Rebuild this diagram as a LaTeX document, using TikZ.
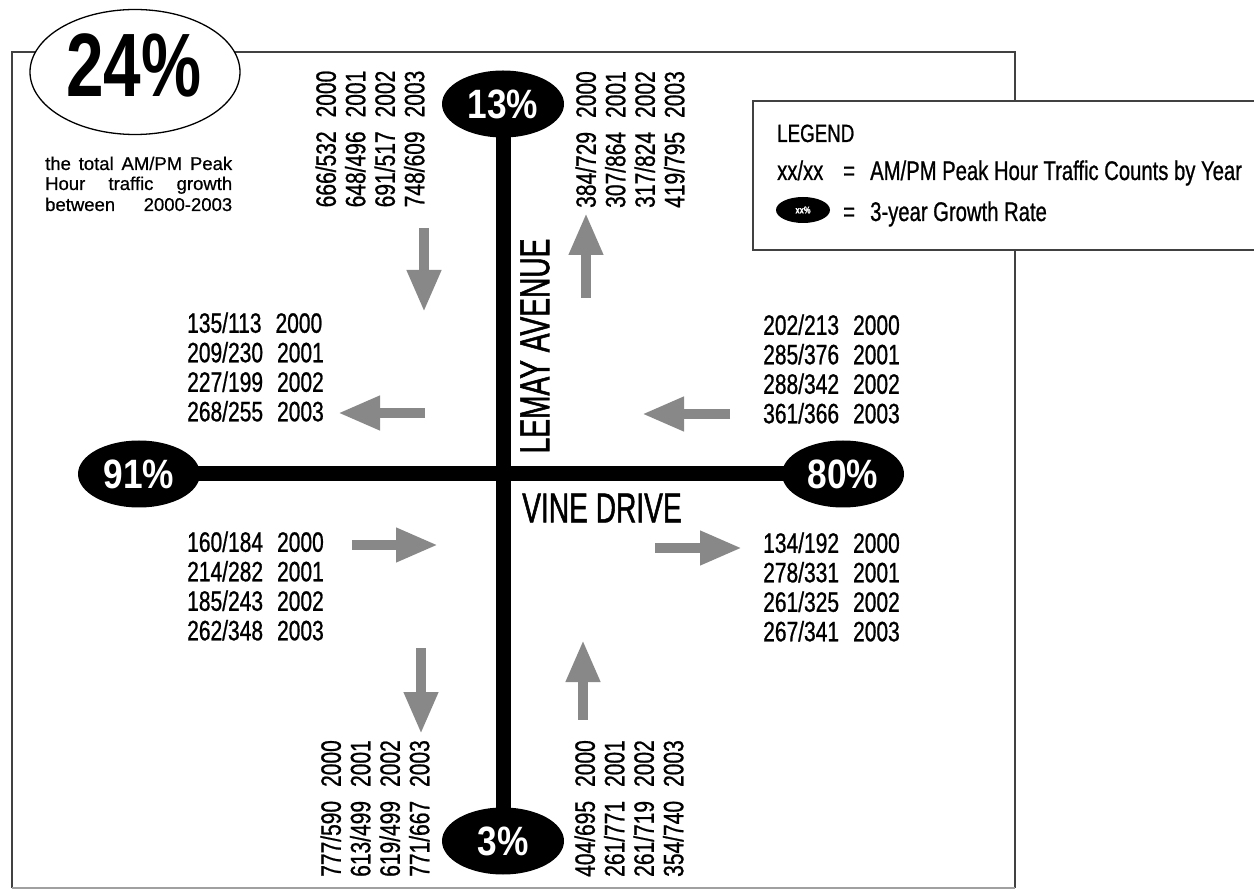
\documentclass[tikz,border=0pt]{standalone}
\usepackage{fontspec}
\setmainfont{Liberation Sans}[FakeBold=0.6]
\newfontfamily\cf{Liberation Sans}[FakeStretch=0.75,FakeBold=0.8]
\newfontfamily\cfroad{Liberation Sans}[FakeStretch=0.67,FakeBold=1.2]
\newfontfamily\cfpct{Liberation Sans}[FakeStretch=0.86]
\newfontfamily\cfbig{Liberation Sans}[FakeStretch=0.75]
\usetikzlibrary{shapes.geometric,arrows.meta,backgrounds}
\definecolor{arrgray}{RGB}{136,136,136}
\definecolor{framegray}{RGB}{65,65,65}
\tikzset{
  data/.style={font=\cf\fontsize{28}{29.5}\selectfont, align=left, inner sep=0pt},
  vdata/.style={data, rotate=90},
  pct/.style={ellipse, fill=black, inner sep=0pt, text=white,
    font=\cfpct\bfseries\fontsize{41}{41}\selectfont,
    minimum width=122pt, minimum height=67pt},
  road/.style={line width=15pt, black},
  flow/.style={arrgray, line width=10pt, -{Triangle[length=42pt,width=32pt]}},
  framel/.style={framegray, line width=2.2pt},
  legtxt/.style={font=\cf\fontsize{27}{27}\selectfont, anchor=base west, inner sep=0pt},
  subtxt/.style={font=\fontsize{18.5}{18.5}\selectfont, anchor=base west, inner sep=0pt},
  roadname/.style={font=\cfroad\fontsize{42}{42}\selectfont, inner sep=0pt}
}
\begin{document}
\begin{tikzpicture}[x=1pt,y=-1pt]
\useasboundingbox (0,0) rectangle (1254,890);

% frame
\draw[framel] (12,888) -- (12,52) -- (1015,52) -- (1015,888);
\draw[framegray!50, line width=1.5pt] (12,888) -- (1015,888);

% legend box
\draw[framel, fill=white] (1258,101) -- (753,101) -- (753,250) -- (1258,250);
\node[legtxt, font=\cf\fontsize{25}{25}\selectfont] (legtitle) at (777,142) {LEGEND};
\node[legtxt] (legxx) at (777,180) {xx/xx};
\node[legtxt] (legeq1) at (843,180) {=};
\node[legtxt] (legcounts) at (870,180) {AM/PM Peak Hour Traffic Counts by Year};
\node[ellipse, fill=black, inner sep=0pt, minimum width=54pt, minimum height=26pt,
      text=white, font=\cf\bfseries\fontsize{10}{10}\selectfont] (legell) at (803,210) {xx\%};
\node[legtxt] (legeq2) at (843,221) {=};
\node[legtxt] (legrate) at (870,221) {3-year Growth Rate};

% total growth
\node[ellipse, draw=black, line width=1.3pt, fill=white, minimum width=210pt,
      minimum height=125pt, inner sep=0pt] (tot) at (135,72) {};
\node[font=\cfbig\bfseries\fontsize{90}{90}\selectfont, inner sep=0pt] (totxt) at (134,65) {24\%};
\node[subtxt] (sub1) at (45,170) {\makebox[187pt][s]{the total AM/PM Peak}};
\node[subtxt] (sub2) at (45,190) {\makebox[187pt][s]{Hour traffic growth}};
\node[subtxt] (sub3) at (45,211) {\makebox[187pt][s]{between 2000-2003}};

% growth ellipses
\node[pct] (n13) at (503,104) {13\%};
\node[pct] (n3) at (503,841) {3\%};
\node[pct] (n91) at (139,474) {91\%};
\node[pct] (n80) at (843,474) {80\%};

% roads (under the ellipses)
\begin{scope}[on background layer]
\fill[white] (0,0) rectangle (1254,890);
\draw[road] (n13.center) -- (n3.center);
\draw[road] (n91.center) -- (n80.center);
\end{scope}
\node[roadname, rotate=90] (lemay) at (535,346) {LEMAY AVENUE};
\node[roadname] (vine) at (602,508) {VINE DRIVE};

% data blocks
\node[data] (dnw) at (255.5,367) {135/113\enspace 2000\\209/230\enspace 2001\\227/199\enspace 2002\\268/255\enspace 2003};
\node[data] (dne) at (831.5,369) {202/213\enspace 2000\\285/376\enspace 2001\\288/342\enspace 2002\\361/366\enspace 2003};
\node[data] (dsw) at (255.5,586) {160/184\enspace 2000\\214/282\enspace 2001\\185/243\enspace 2002\\262/348\enspace 2003};
\node[data] (dse) at (831.5,587) {134/192\enspace 2000\\278/331\enspace 2001\\261/325\enspace 2002\\267/341\enspace 2003};
\node[vdata] (dnl) at (370,139) {666/532\enspace 2000\\648/496\enspace 2001\\691/517\enspace 2002\\748/609\enspace 2003};
\node[vdata] (dnr) at (630,139.5) {384/729\enspace 2000\\307/864\enspace 2001\\317/824\enspace 2002\\419/795\enspace 2003};
\node[vdata] (dsl) at (375,808.5) {777/590\enspace 2000\\613/499\enspace 2001\\619/499\enspace 2002\\771/667\enspace 2003};
\node[vdata] (dsr) at (629,808.5) {404/695\enspace 2000\\261/771\enspace 2001\\261/719\enspace 2002\\354/740\enspace 2003};

% flow arrows
\coordinate (a1s) at (425,413); \coordinate (a1e) at (338,413);
\coordinate (a2s) at (730,414); \coordinate (a2e) at (642,414);
\coordinate (a3s) at (352,545); \coordinate (a3e) at (438,545);
\coordinate (a4s) at (655,548); \coordinate (a4e) at (742,548);
\coordinate (a5s) at (424,228); \coordinate (a5e) at (424,312);
\coordinate (a6s) at (586,298); \coordinate (a6e) at (586,213);
\coordinate (a7s) at (421,648); \coordinate (a7e) at (421,734);
\coordinate (a8s) at (583,720); \coordinate (a8e) at (583,640);
\foreach \i in {1,...,8} { \draw[flow] (a\i s) -- (a\i e); }
\end{tikzpicture}
\end{document}
